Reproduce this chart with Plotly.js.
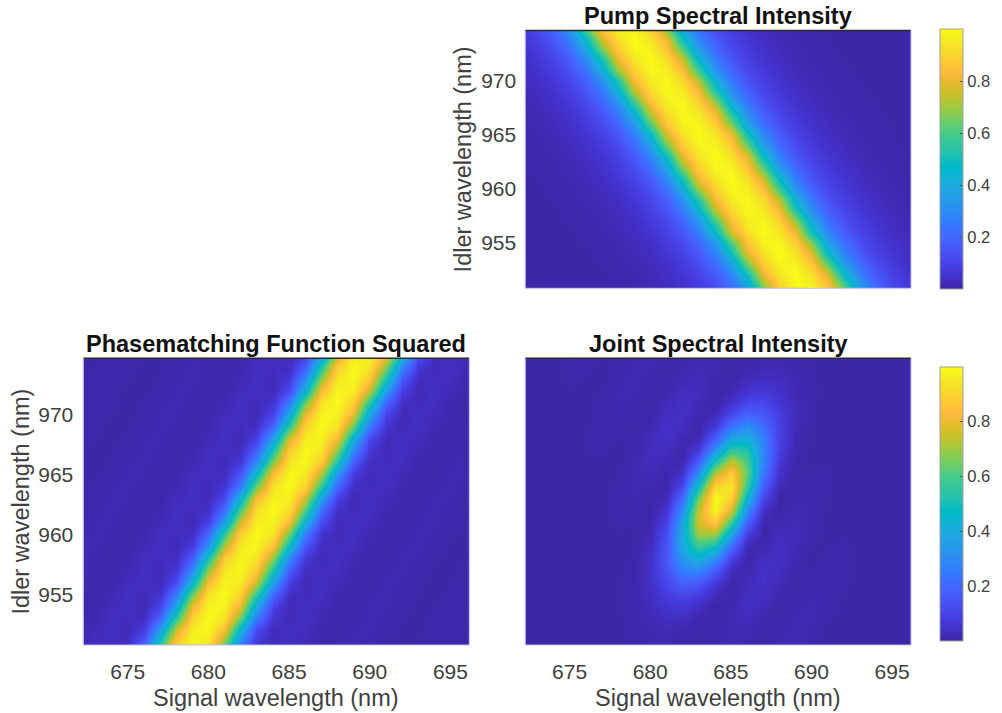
<!DOCTYPE html>
<html>
<head>
<meta charset="utf-8">
<script src="https://cdn.plot.ly/plotly-3.0.1.min.js"></script>
<style>
html,body{margin:0;padding:0;background:#ffffff;}
#chart{width:1002px;height:713px;}
</style>
</head>
<body>
<div id="chart"></div>
<script>
// ---- data (rows = idler wavelength, columns = signal wavelength) ----
const signalWl = [672,673,674,675,676,677,678,679,680,681,682,683,684,685,686,687,688,689,690,691,692,693,694,695,696,697];
const idlerWl = [950,951,952,953,954,955,956,957,958,959,960,961,962,963,964,965,966,967,968,969,970,971,972,973,974,975];

const pumpIntensity = [
[0,0,0,0,0,0,0,.005,.011,.021,.037,.063,.101,.17,.29,.51,.81,.95,1,.93,.76,.46,.26,.153,.091,.057],
[0,0,0,0,0,.002,.004,.008,.016,.029,.048,.079,.132,.22,.38,.67,.89,.99,.98,.86,.61,.34,.2,.119,.072,.043],
[0,0,0,0,0,0,.005,.01,.02,.035,.06,.095,.16,.27,.48,.79,.94,1,.94,.79,.48,.27,.16,.095,.06,.035],
[0,0,0,0,.001,.003,.007,.015,.027,.045,.075,.125,.21,.36,.64,.88,.98,.98,.88,.64,.36,.21,.125,.075,.045,.027],
[0,0,0,0,0,.005,.01,.02,.035,.06,.095,.16,.27,.48,.79,.94,1,.94,.79,.48,.27,.16,.095,.06,.035,.02],
[0,0,0,.001,.003,.007,.014,.026,.043,.072,.119,.2,.34,.61,.86,.98,.99,.89,.67,.38,.22,.132,.079,.048,.029,.016],
[0,0,0,0,.005,.009,.019,.033,.057,.091,.153,.26,.46,.76,.93,1,.95,.81,.51,.29,.17,.101,.063,.037,.021,.011],
[0,0,.001,.003,.006,.013,.024,.041,.069,.113,.19,.32,.58,.84,.97,.99,.9,.7,.41,.23,.139,.083,.051,.03,.017,.008],
[0,0,0,.004,.009,.018,.032,.054,.087,.146,.25,.43,.73,.92,.99,.96,.83,.54,.31,.18,.107,.066,.039,.023,.012,.006],
[0,.001,.003,.006,.012,.023,.039,.066,.107,.18,.31,.54,.83,.96,.99,.92,.73,.43,.25,.146,.087,.054,.032,.018,.009,.004],
[0,0,.004,.008,.017,.03,.051,.083,.139,.23,.41,.7,.9,.99,.97,.84,.58,.32,.19,.113,.069,.041,.024,.013,.006,.003],
[0,.002,.005,.011,.021,.037,.063,.101,.17,.29,.51,.81,.95,1,.93,.76,.46,.26,.153,.091,.057,.033,.019,.009,.005,.002],
[.002,.004,.008,.016,.029,.048,.079,.132,.22,.38,.67,.89,.99,.98,.86,.61,.34,.2,.119,.072,.043,.026,.014,.007,.003,.001],
[.002,.005,.01,.02,.035,.06,.095,.16,.27,.48,.79,.94,1,.94,.79,.48,.27,.16,.095,.06,.035,.02,.01,.005,.002,0],
[.003,.007,.015,.027,.045,.075,.125,.21,.36,.64,.88,.98,.98,.88,.64,.36,.21,.125,.075,.045,.027,.015,.007,.003,.001,0],
[.005,.009,.019,.033,.057,.091,.153,.26,.46,.76,.93,1,.95,.81,.51,.29,.17,.101,.063,.037,.021,.011,.005,.002,0,0],
[.007,.014,.026,.043,.072,.119,.2,.34,.61,.86,.98,.99,.89,.67,.38,.22,.132,.079,.048,.029,.016,.008,.004,.002,0,0],
[.009,.018,.032,.054,.087,.146,.25,.43,.73,.92,.99,.96,.83,.54,.31,.18,.107,.066,.039,.023,.012,.006,.003,.001,0,0],
[.013,.024,.041,.069,.113,.19,.32,.58,.84,.97,.99,.9,.7,.41,.23,.139,.083,.051,.03,.017,.008,.004,.002,0,0,0],
[.018,.032,.054,.087,.146,.25,.43,.73,.92,.99,.96,.83,.54,.31,.18,.107,.066,.039,.023,.012,.006,.003,.001,0,0,0],
[.023,.039,.066,.107,.18,.31,.54,.83,.96,.99,.92,.73,.43,.25,.146,.087,.054,.032,.018,.009,.004,.002,0,0,0,0],
[.03,.051,.083,.139,.23,.41,.7,.9,.99,.97,.84,.58,.32,.19,.113,.069,.041,.024,.013,.006,.003,.001,0,0,0,0],
[.037,.063,.101,.17,.29,.51,.81,.95,1,.93,.76,.46,.26,.153,.091,.057,.033,.019,.009,.005,.002,0,0,0,0,0],
[.048,.079,.132,.22,.38,.67,.89,.99,.98,.86,.61,.34,.2,.119,.072,.043,.026,.014,.007,.003,.001,0,0,0,0,0],
[.06,.095,.16,.27,.48,.79,.94,1,.94,.79,.48,.27,.16,.095,.06,.035,.02,.01,.005,.002,0,0,0,0,0,0],
[.075,.125,.21,.36,.64,.88,.98,.98,.88,.64,.36,.21,.125,.075,.045,.027,.015,.007,.003,.001,0,0,0,0,0,0]
];

const phasematchingSq = [
[.02,.035,.022,.076,.32,.72,.96,.99,.85,.47,.15,.028,.031,.029,.008,.004,.01,.012,.006,.001,0,.005,.006,.002,0,0],
[.009,.031,.029,.032,.17,.52,.88,.99,.95,.68,.29,.064,.023,.035,.017,.004,.007,.012,.009,.003,0,.003,.006,.004,0,0],
[.005,.022,.035,.021,.088,.36,.76,.97,.99,.83,.43,.12,.024,.033,.027,.006,.005,.01,.012,.005,.001,0,.005,.006,.002,0],
[.003,.011,.033,.027,.036,.2,.56,.9,1,.94,.64,.25,.052,.024,.035,.015,.003,.007,.012,.009,.003,0,.004,.006,.004,0],
[.005,.005,.025,.035,.02,.1,.39,.8,.98,.98,.8,.39,.1,.02,.035,.025,.005,.005,.011,.011,.004,0,.002,.006,.005,.001],
[.007,.003,.015,.035,.024,.052,.25,.64,.94,1,.9,.56,.2,.036,.027,.033,.011,.003,.009,.012,.007,.002,0,.004,.006,.003],
[.01,.005,.006,.027,.033,.024,.12,.43,.83,.98,.97,.76,.36,.088,.021,.035,.022,.005,.006,.011,.01,.004,0,.002,.006,.005],
[.012,.007,.004,.017,.035,.023,.064,.29,.68,.95,.99,.88,.52,.17,.032,.029,.031,.009,.004,.009,.012,.006,.001,0,.004,.006],
[.012,.009,.004,.009,.031,.029,.032,.17,.52,.88,.99,.95,.68,.29,.064,.023,.035,.017,.004,.007,.012,.009,.003,0,.003,.006],
[.01,.011,.006,.004,.02,.035,.022,.076,.32,.72,.96,.99,.85,.47,.15,.028,.031,.029,.008,.004,.01,.012,.006,.001,0,.005],
[.007,.012,.009,.003,.011,.033,.027,.036,.2,.56,.9,1,.94,.64,.25,.052,.024,.035,.015,.003,.007,.012,.009,.003,0,.004],
[.004,.01,.011,.006,.005,.022,.035,.021,.088,.36,.76,.97,.98,.83,.43,.12,.024,.033,.027,.006,.005,.01,.012,.005,.001,0],
[.002,.008,.012,.008,.003,.012,.035,.025,.04,.22,.6,.93,1,.93,.6,.22,.04,.025,.035,.012,.003,.008,.012,.008,.002,0],
[.001,.005,.012,.01,.005,.006,.027,.033,.024,.12,.43,.83,.98,.97,.76,.36,.088,.021,.035,.022,.005,.006,.011,.01,.004,0],
[0,.003,.009,.012,.007,.003,.015,.035,.024,.052,.25,.64,.94,1,.9,.56,.2,.036,.027,.033,.011,.003,.009,.012,.007,.002],
[0,.001,.006,.012,.01,.004,.008,.029,.031,.028,.15,.47,.85,.99,.96,.72,.32,.076,.022,.035,.02,.004,.006,.011,.01,.003],
[.003,0,.003,.009,.012,.007,.004,.017,.035,.023,.064,.29,.68,.95,.99,.88,.52,.17,.032,.029,.031,.009,.004,.009,.012,.006],
[.004,0,.001,.006,.012,.009,.004,.009,.031,.029,.032,.17,.52,.88,.99,.95,.68,.29,.064,.023,.035,.017,.004,.007,.012,.009],
[.006,.002,0,.004,.01,.011,.006,.005,.022,.035,.021,.088,.36,.76,.97,.98,.83,.43,.12,.024,.033,.027,.006,.005,.01,.012],
[.006,.004,0,.002,.007,.012,.009,.003,.011,.033,.027,.036,.2,.56,.9,1,.94,.64,.25,.052,.024,.035,.015,.003,.007,.012],
[.005,.006,.002,0,.004,.011,.011,.005,.005,.025,.035,.02,.1,.39,.8,.98,.98,.8,.39,.1,.02,.035,.025,.005,.005,.011],
[.004,.006,.004,0,.003,.009,.012,.007,.003,.015,.035,.024,.052,.25,.64,.94,1,.9,.56,.2,.036,.027,.033,.011,.003,.009],
[.002,.006,.005,0,.001,.005,.012,.01,.005,.006,.027,.033,.024,.12,.43,.83,.98,.97,.76,.36,.088,.021,.035,.022,.005,.006],
[0,.004,.006,.003,0,.003,.009,.012,.007,.004,.017,.035,.023,.064,.29,.68,.95,.99,.88,.52,.17,.032,.029,.031,.009,.004],
[0,.002,.006,.004,0,.001,.006,.012,.009,.004,.009,.031,.029,.032,.17,.52,.88,.99,.95,.68,.29,.064,.023,.035,.017,.004],
[0,.001,.004,.006,.003,0,.003,.01,.011,.006,.004,.02,.035,.022,.076,.32,.72,.96,.99,.85,.47,.15,.028,.031,.029,.008]
];

const jointSpectral = [
[0,0,0,0,0,0,0,0,0,.003,.001,.001,.006,.008,.002,.003,.012,.011,.002,0,0,0,0,0,0,0],
[0,0,0,0,0,0,.001,.003,.007,.008,.004,0,.006,.014,.007,0,.01,.015,.005,0,0,0,0,0,0,0],
[0,0,0,0,0,0,.001,.004,.011,.018,.013,.002,.004,.018,.016,.002,.005,.016,.01,0,0,0,0,0,0,0],
[0,0,0,0,0,0,.001,.006,.018,.033,.032,.012,.001,.018,.027,.009,.001,.013,.014,.003,0,0,0,0,0,0],
[0,0,0,0,0,0,.001,.007,.027,.054,.065,.037,.003,.012,.035,.022,.001,.007,.014,.006,0,0,0,0,0,0],
[0,0,0,0,0,0,.001,.008,.033,.082,.117,.088,.021,.003,.034,.036,.008,.003,.011,.008,.001,0,0,0,0,0],
[0,0,0,0,0,0,.001,.008,.039,.112,.185,.171,.07,.002,.024,.046,.02,0,.007,.008,.003,0,0,0,0,0],
[0,0,0,0,0,0,0,.006,.041,.138,.263,.292,.165,.025,.008,.044,.033,.004,.002,.007,.003,0,0,0,0,0],
[0,0,0,0,0,0,0,.003,.037,.153,.337,.433,.31,.092,.001,.031,.04,.012,0,.004,.003,0,0,0,0,0],
[0,0,0,0,0,.001,.001,.001,.028,.149,.387,.576,.494,.21,.019,.013,.038,.02,.001,.002,.003,0,0,0,0,0],
[0,0,0,0,0,.001,.002,0,.016,.127,.402,.7,.705,.378,.077,0,.027,.024,.005,0,.002,0,0,0,0,0],
[0,0,0,0,0,.001,.003,.002,.005,.094,.373,.765,.883,.58,.178,.01,.012,.022,.008,0,.001,0,0,0,0,0],
[0,0,0,0,0,.001,.004,.005,0,.053,.303,.742,.993,.772,.31,.039,.001,.016,.01,.001,0,0,0,0,0,0],
[0,0,0,0,0,0,.005,.01,.003,.017,.209,.646,1,.9,.445,.102,.002,.008,.009,.002,0,0,0,0,0,0],
[0,0,0,0,0,0,.004,.014,.012,.002,.115,.481,.911,.945,.565,.173,.016,.002,.006,.003,0,0,0,0,0,0],
[0,0,0,0,.001,0,.002,.014,.023,.003,.046,.317,.74,.891,.62,.237,.043,0,.003,.002,0,0,0,0,0,0],
[0,0,0,0,.001,.001,0,.011,.03,.016,.009,.175,.524,.755,.6,.276,.064,.004,.001,.002,0,0,0,0,0,0],
[0,0,0,0,.002,.003,0,.006,.03,.033,.001,.07,.329,.564,.525,.284,.084,.01,0,.001,0,0,0,0,0,0],
[0,0,0,0,.002,.004,.002,.002,.024,.044,.015,.014,.172,.384,.419,.262,.094,.016,.001,0,0,0,0,0,0,0],
[0,0,0,0,.001,.005,.006,0,.013,.044,.033,.001,.07,.229,.299,.217,.091,.021,.002,0,0,0,0,0,0,0],
[0,0,0,0,0,.005,.009,.003,.004,.033,.043,.009,.018,.115,.189,.161,.079,.022,.003,0,0,0,0,0,0,0],
[0,0,.001,.001,0,.004,.011,.008,0,.02,.042,.021,.001,.047,.108,.11,.061,.02,.003,0,0,0,0,0,0,0],
[0,0,.001,.002,.001,.002,.01,.013,.003,.006,.031,.029,.003,.012,.052,.063,.043,.017,.004,0,0,0,0,0,0,0],
[0,0,0,.003,.002,0,.007,.015,.008,.001,.018,.027,.009,.001,.021,.035,.028,.012,.003,0,0,0,0,0,0,0],
[0,0,0,.003,.004,.001,.003,.014,.013,.001,.007,.02,.013,0,.006,.016,.017,.008,.002,0,0,0,0,0,0,0],
[0,0,0,.002,.005,.003,0,.01,.015,.005,.001,.011,.012,.003,.001,.006,.008,.005,.002,0,0,0,0,0,0,0]
];

const xTickVals = [675,680,685,690,695];
const yTickVals = [955,960,965,970];
const cbTickVals = [0.2,0.4,0.6,0.8];
const panelTitles = ['Pump Spectral Intensity','Phasematching Function Squared','Joint Spectral Intensity'];
const xLabelText = 'Signal wavelength (nm)';
const yLabelText = 'Idler wavelength (nm)';

// ---- parula colour map (style) ----
const parulaRGB = [[0.2422,0.1504,0.6603],[0.2504,0.1650,0.7076],[0.2578,0.1818,0.7511],[0.2647,0.1978,0.7952],[0.2706,0.2147,0.8364],[0.2751,0.2342,0.8710],[0.2783,0.2559,0.8991],[0.2803,0.2782,0.9221],[0.2813,0.3006,0.9414],[0.2810,0.3228,0.9579],[0.2795,0.3447,0.9717],[0.2760,0.3667,0.9829],[0.2699,0.3892,0.9906],[0.2602,0.4123,0.9952],[0.2440,0.4358,0.9988],[0.2206,0.4603,0.9973],[0.1963,0.4847,0.9892],[0.1834,0.5074,0.9798],[0.1786,0.5289,0.9682],[0.1764,0.5499,0.9520],[0.1687,0.5703,0.9359],[0.1540,0.5902,0.9218],[0.1460,0.6091,0.9079],[0.1380,0.6276,0.8973],[0.1248,0.6459,0.8883],[0.1113,0.6635,0.8763],[0.0952,0.6798,0.8598],[0.0689,0.6948,0.8394],[0.0297,0.7082,0.8163],[0.0036,0.7203,0.7917],[0.0067,0.7312,0.7660],[0.0433,0.7411,0.7394],[0.0964,0.7500,0.7120],[0.1408,0.7584,0.6842],[0.1717,0.7670,0.6554],[0.1938,0.7758,0.6251],[0.2161,0.7843,0.5923],[0.2470,0.7918,0.5567],[0.2906,0.7973,0.5188],[0.3406,0.8008,0.4789],[0.3909,0.8029,0.4354],[0.4456,0.8024,0.3909],[0.5044,0.7993,0.3480],[0.5616,0.7942,0.3045],[0.6174,0.7876,0.2612],[0.6720,0.7793,0.2227],[0.7242,0.7698,0.1910],[0.7738,0.7598,0.1646],[0.8203,0.7498,0.1535],[0.8634,0.7406,0.1596],[0.9035,0.7330,0.1774],[0.9393,0.7288,0.2100],[0.9728,0.7298,0.2394],[0.9956,0.7434,0.2371],[0.9970,0.7659,0.2199],[0.9952,0.7893,0.2028],[0.9892,0.8136,0.1885],[0.9786,0.8386,0.1766],[0.9676,0.8639,0.1643],[0.9610,0.8890,0.1537],[0.9597,0.9135,0.1423],[0.9628,0.9373,0.1265],[0.9691,0.9606,0.1064],[0.9769,0.9839,0.0805]];
const parula = parulaRGB.map((c, i) => [i / (parulaRGB.length - 1),
  'rgb(' + Math.round(c[0]*255) + ',' + Math.round(c[1]*255) + ',' + Math.round(c[2]*255) + ')']);

// ---- layout helpers (pixel -> paper) ----
const W = 1002, H = 713;
const px = v => v / W;
const py = v => 1 - v / H;
const FONT = '"Liberation Sans", Arial, Helvetica, sans-serif';
const tickColor = '#404040';

const cbBase = {
  xref: 'paper', yref: 'paper', x: px(940), xanchor: 'left', yanchor: 'middle',
  lenmode: 'pixels', thicknessmode: 'pixels', thickness: 23,
  xpad: 0, ypad: 0, outlinewidth: 1, outlinecolor: '#a0a0a0',
  tickvals: cbTickVals, ticktext: cbTickVals.map(v => v.toFixed(1)),
  ticks: 'inside', ticklen: 3, tickcolor: '#555555', tickwidth: 1,
  tickfont: {family: FONT, size: 16.5, color: tickColor}
};

const traces = [
  {type: 'heatmap', x: signalWl, y: idlerWl, z: pumpIntensity, xaxis: 'x', yaxis: 'y',
   colorscale: parula, zmin: 0, zmax: 1, zsmooth: 'best', hoverinfo: 'skip',
   showscale: true, colorbar: Object.assign({}, cbBase, {y: py(159.3), len: 260})},
  {type: 'heatmap', x: signalWl, y: idlerWl, z: phasematchingSq, xaxis: 'x2', yaxis: 'y2',
   colorscale: parula, zmin: 0, zmax: 1, zsmooth: 'best', hoverinfo: 'skip', showscale: false},
  {type: 'heatmap', x: signalWl, y: idlerWl, z: jointSpectral, xaxis: 'x3', yaxis: 'y3',
   colorscale: parula, zmin: 0, zmax: 1, zsmooth: 'best', hoverinfo: 'skip',
   showscale: true, colorbar: Object.assign({}, cbBase, {y: py(503.7), len: 274})}
];

const axBase = {
  showgrid: false, zeroline: false, showline: false, ticks: '',
  tickfont: {family: FONT, size: 21, color: tickColor}, fixedrange: true
};
const xr = [672.25, 696.17];
const yr = [950.8, 974.66];
const xDomL = [px(83.3), px(469.3)], xDomR = [px(525.2), px(911)];
const yDomT = [py(288.3), py(30.5)], yDomB = [py(645), py(358.3)];

const layout = {
  width: W, height: H, margin: {l: 0, r: 0, t: 0, b: 0},
  paper_bgcolor: '#ffffff', plot_bgcolor: '#ffffff', showlegend: false,
  font: {family: FONT},
  xaxis: Object.assign({}, axBase, {domain: xDomR, anchor: 'y', range: xr, tickvals: xTickVals, showticklabels: false}),
  yaxis: Object.assign({}, axBase, {domain: yDomT, anchor: 'x', range: yr, tickvals: yTickVals, ticklabelstandoff: 8}),
  xaxis2: Object.assign({}, axBase, {domain: xDomL, anchor: 'y2', range: xr, tickvals: xTickVals, ticklabelstandoff: 12}),
  yaxis2: Object.assign({}, axBase, {domain: yDomB, anchor: 'x2', range: yr, tickvals: yTickVals, ticklabelstandoff: 9}),
  xaxis3: Object.assign({}, axBase, {domain: xDomR, anchor: 'y3', range: xr, tickvals: xTickVals, ticklabelstandoff: 12}),
  yaxis3: Object.assign({}, axBase, {domain: yDomB, anchor: 'x3', range: yr, tickvals: yTickVals, showticklabels: false}),
  annotations: [],
  shapes: []
};

const titleFont = {family: FONT, size: 23.5, color: '#111111'};
const labelFont = {family: FONT, size: 23.5, color: tickColor};
function ann(text, x, y, font, angle) {
  layout.annotations.push({text: text, xref: 'paper', yref: 'paper', x: x, y: y,
    xanchor: 'center', yanchor: 'middle', showarrow: false, font: font, textangle: angle || 0});
}
ann('<b>' + panelTitles[0] + '</b>', px(718.2), py(15.7), titleFont);
ann('<b>' + panelTitles[1] + '</b>', px(276.3), py(343.5), titleFont);
ann('<b>' + panelTitles[2] + '</b>', px(718), py(343.5), titleFont);
ann(xLabelText, px(276.3), py(698.3), labelFont);
ann(xLabelText, px(718), py(698.3), labelFont);
ann(yLabelText, px(21), py(501.6), labelFont, -90);
ann(yLabelText, px(463), py(159.4), labelFont, -90);

// axes frame: dark top edge, faint other edges
[['x', 'y'], ['x2', 'y2'], ['x3', 'y3']].forEach(([xa, ya]) => {
  const ref = {xref: xa + ' domain', yref: ya + ' domain', type: 'line', layer: 'above'};
  layout.shapes.push(Object.assign({}, ref, {x0: 0, x1: 1, y0: 1, y1: 1, line: {color: '#2a2a2a', width: 1.6}}));
  layout.shapes.push(Object.assign({}, ref, {x0: 0, x1: 1, y0: 0, y1: 0, line: {color: 'rgb(190,190,238)', width: 1}}));
  layout.shapes.push(Object.assign({}, ref, {x0: 0, x1: 0, y0: 0, y1: 1, line: {color: 'rgb(190,190,238)', width: 1}}));
  layout.shapes.push(Object.assign({}, ref, {x0: 1, x1: 1, y0: 0, y1: 1, line: {color: 'rgb(190,190,238)', width: 1}}));
});

Plotly.newPlot('chart', traces, layout, {displayModeBar: false, staticPlot: true});
</script>
</body>
</html>
